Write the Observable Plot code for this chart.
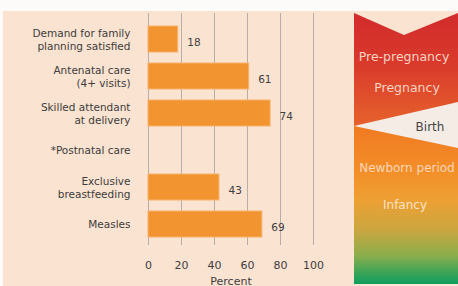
<!DOCTYPE html>
<html>
<head>
<meta charset="utf-8">
<script src="https://cdn.jsdelivr.net/npm/d3@7"></script>
<script src="https://cdn.jsdelivr.net/npm/@observablehq/plot@0.6"></script>
<style>
  html, body { margin: 0; padding: 0; background: #ffffff; }
  #wrap { position: relative; width: 458px; height: 286px; overflow: hidden; background: #fdfbf9; }
  #panel { position: absolute; left: 3px; top: 11px; width: 455px; height: 275px; background: #fbe3d1; }
  #chart, #deco { position: absolute; left: 0; top: 0; }
</style>
</head>
<body>
<div id="wrap">
  <div id="panel"></div>
  <div id="chart"></div>
  <div id="deco"></div>
</div>
<script>
const categories = [
  "Demand for family\nplanning satisfied",
  "Antenatal care\n(4+ visits)",
  "Skilled attendant\nat delivery",
  "*Postnatal care",
  "Exclusive\nbreastfeeding",
  "Measles"
];
const values = [18, 61, 74, null, 43, 69];
const xTicks = [0, 20, 40, 60, 80, 100];
const stages = ["Pre-pregnancy", "Pregnancy", "Birth", "Newborn period", "Infancy"];

const data = categories.map((c, i) => ({category: c, value: values[i]}));
const withValue = data.filter(d => d.value != null);

const chart = Plot.plot({
  width: 458,
  height: 286,
  marginLeft: 148,
  marginRight: 145,
  marginTop: 13,
  marginBottom: 41,
  style: {background: "transparent", fontFamily: "DejaVu Sans", fontSize: "10.5px", color: "#3d3d3d"},
  x: {domain: [0, 100], ticks: xTicks},
  y: {domain: categories, paddingInner: 0.29, paddingOuter: 0.255, align: 0.63},
  marks: [
    Plot.gridX(xTicks, {stroke: "#8a8a8a", strokeOpacity: 0.6}),
    Plot.barX(withValue, {x: "value", y: "category", fill: "#f29430", stroke: "#f6b36c", strokeWidth: 1}),
    Plot.text(withValue, {x: "value", y: "category", text: d => String(d.value), dx: 9, dy: 3, textAnchor: "start", fill: "#404040", fontSize: 10.5}),
    Plot.axisX({ticks: xTicks, tickSize: 0, tickPadding: 16, fontSize: 11, label: "Percent", labelAnchor: "center", labelArrow: "none", labelOffset: 39}),
    Plot.axisY({tickSize: 0, tickPadding: 18, label: null, lineHeight: 1.17, fontSize: 10.5})
  ]
});
document.getElementById("chart").appendChild(chart);

// Decorative life-stage column
const svg = d3.create("svg").attr("width", 458).attr("height", 286)
  .style("font-family", "DejaVu Sans");
const defs = svg.append("defs");
const g1 = defs.append("linearGradient").attr("id", "gTop")
  .attr("gradientUnits", "userSpaceOnUse").attr("x1", 0).attr("y1", 13).attr("x2", 0).attr("y2", 126);
[[0, "#d22b2c"], [0.45, "#d93a2b"], [1, "#e6622c"]].forEach(([o, c]) =>
  g1.append("stop").attr("offset", o).attr("stop-color", c));
const g2 = defs.append("linearGradient").attr("id", "gBot")
  .attr("gradientUnits", "userSpaceOnUse").attr("x1", 0).attr("y1", 126).attr("x2", 0).attr("y2", 284);
[[0, "#f07a22"], [0.28, "#f38e28"], [0.47, "#eea034"], [0.66, "#caa640"], [0.82, "#8aae4c"], [0.93, "#3aa458"], [1, "#0f9e5e"]]
  .forEach(([o, c]) => g2.append("stop").attr("offset", o).attr("stop-color", c));

svg.append("rect").attr("x", 354).attr("y", 100).attr("width", 104).attr("height", 50).attr("fill", "#f6ece6");
svg.append("polygon").attr("points", "354,13 404,35 458,13 458,102 354,126").attr("fill", "url(#gTop)");
svg.append("polygon").attr("points", "354,126 458,148 458,284 354,284").attr("fill", "url(#gBot)");

const labelPos = [
  [404, 57, "#f9d2c2", 12.5],
  [407, 88, "#f9d2c2", 12.5],
  [430, 127, "#444444", 12],
  [407, 168, "#fbd6b8", 12],
  [405, 205, "#fbe2c2", 12]
];
stages.forEach((s, i) => {
  const [x, y, c, fs] = labelPos[i];
  svg.append("text").attr("x", x).attr("y", y).attr("dy", "0.35em")
    .attr("text-anchor", "middle").attr("font-size", fs).attr("fill", c).text(s);
});
document.getElementById("deco").appendChild(svg.node());
</script>
</body>
</html>
